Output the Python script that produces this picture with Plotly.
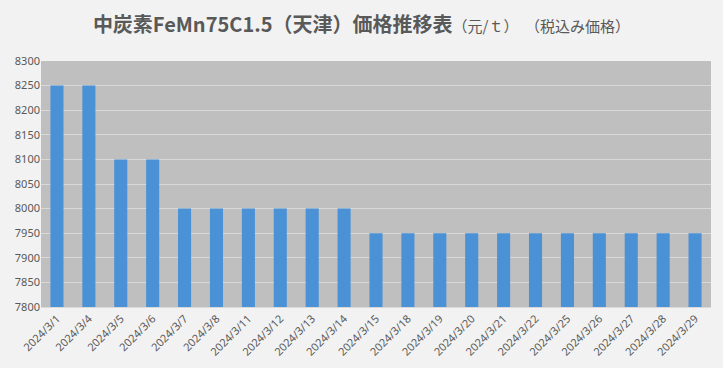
import plotly.graph_objects as go

dates = ["2024/3/1", "2024/3/4", "2024/3/5", "2024/3/6", "2024/3/7", "2024/3/8",
         "2024/3/11", "2024/3/12", "2024/3/13", "2024/3/14", "2024/3/15", "2024/3/18",
         "2024/3/19", "2024/3/20", "2024/3/21", "2024/3/22", "2024/3/25", "2024/3/26",
         "2024/3/27", "2024/3/28", "2024/3/29"]
prices = [8250, 8250, 8100, 8100, 8000, 8000, 8000, 8000, 8000, 8000,
          7950, 7950, 7950, 7950, 7950, 7950, 7950, 7950, 7950, 7950, 7950]
y_ticks = [7800, 7850, 7900, 7950, 8000, 8050, 8100, 8150, 8200, 8250, 8300]

fig = go.Figure(go.Bar(x=dates, y=prices, marker=dict(color="#4A91D6", line=dict(width=0))))

fig.update_layout(
    width=723, height=368,
    paper_bgcolor="#F2F2F2", plot_bgcolor="#BFBFBF",
    margin=dict(l=41, r=12, t=61, b=61),
    bargap=0.59,
    showlegend=False,
    title=dict(
        text="<b>中炭素FeMn75C1.5（天津）価格推移表</b><span style='font-size:15px'>（元/ｔ）  （税込み価格）</span>",
        x=0.5, xanchor="center", y=0.932, yanchor="middle",
        font=dict(family="Noto Sans CJK JP", size=20, color="#595959"),
    ),
    font=dict(family="Noto Sans", color="#595959"),
)
fig.update_yaxes(range=[7800, 8300], tickvals=y_ticks, showgrid=True, gridcolor="#D9D9D9",
                 gridwidth=1, zeroline=False, tickfont=dict(size=11, color="#595959"),
                 ticks="", showline=False, automargin=False)
fig.update_xaxes(type="category", tickangle=-45, tickfont=dict(size=11, color="#595959"),
                 showline=True, linecolor="#D9D9D9", ticks="", automargin=False)

fig.write_html("out.html", config={"displayModeBar": False},
               post_script="document.body.style.margin='0';document.body.style.background='#F2F2F2';")
